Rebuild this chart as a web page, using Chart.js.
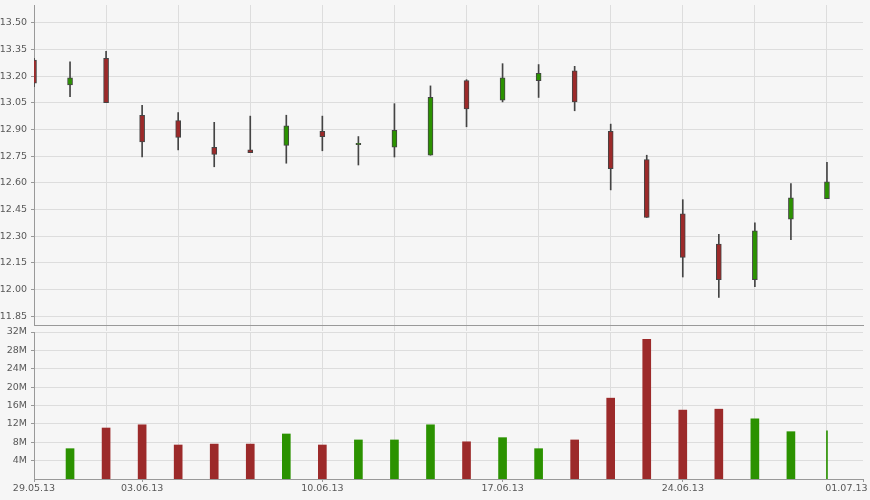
<!DOCTYPE html>
<html lang="en">
<head>
<meta charset="utf-8">
<script src="https://cdn.jsdelivr.net/npm/chart.js@4.4.0/dist/chart.umd.min.js"></script>
<style>
    body { margin: 0; background: #f6f6f6; width: 870px; height: 500px; overflow: hidden; position: relative; }
    #priceChart { position: absolute; left: 0; top: 0; }
    #volumeChart { position: absolute; left: 0; top: 325px; }
</style>
</head>
<body>
<canvas id="priceChart" width="870" height="331"></canvas>
<canvas id="volumeChart" width="870" height="175"></canvas>
<script>
// trading days (last one has no data, it only closes the axis)
const dates = ['29.05.13','30.05.13','31.05.13','03.06.13','04.06.13','05.06.13','06.06.13','07.06.13',
    '10.06.13','11.06.13','12.06.13','13.06.13','14.06.13','17.06.13','18.06.13','19.06.13','20.06.13','21.06.13',
    '24.06.13','25.06.13','26.06.13','27.06.13','28.06.13','01.07.13'];
const tickLabels = ['29.05.13','03.06.13','10.06.13','17.06.13','24.06.13','01.07.13'];

const open  = [13.29, 13.15, 13.30, 12.98, 12.95, 12.80, 12.785, 12.81, 12.89, 12.815, 12.80, 12.755,
    13.175, 13.065, 13.175, 13.23, 12.89, 12.73, 12.425, 12.255, 12.055, 12.395, 12.51, null];
const high  = [13.30, 13.28, 13.34, 13.035, 12.995, 12.94, 12.975, 12.98, 12.975, 12.86, 13.045, 13.145,
    13.18, 13.27, 13.265, 13.255, 12.93, 12.755, 12.505, 12.31, 12.375, 12.595, 12.715, null];
const low   = [13.14, 13.085, 13.05, 12.745, 12.785, 12.69, 12.77, 12.71, 12.78, 12.70, 12.745, 12.755,
    12.915, 13.055, 13.08, 13.005, 12.56, 12.405, 12.07, 11.955, 12.015, 12.28, 12.51, null];
const close = [13.16, 13.19, 13.05, 12.83, 12.855, 12.76, 12.77, 12.92, 12.86, 12.822, 12.895, 13.08,
    13.015, 13.19, 13.215, 13.055, 12.68, 12.405, 12.18, 12.055, 12.33, 12.515, 12.605, null];

// volume in millions
const volumeM = [null, 6.6, 11.1, 11.8, 7.4, 7.6, 7.6, 9.8, 7.4, 8.5, 8.5, 11.8,
    8.1, 9.0, 6.6, 8.5, 17.6, 30.4, 15.0, 15.2, 13.1, 10.3, 10.5, null];

const priceTicks = [11.85, 12.00, 12.15, 12.30, 12.45, 12.60, 12.75, 12.90, 13.05, 13.20, 13.35, 13.50];
const volumeTicks = [4, 8, 12, 16, 20, 24, 28, 32];

const upColor = '#2b9200';
const downColor = '#9c2a2a';
const edgeColor = '#444444';
const axisColor = '#999999';
const gridColor = '#dddddd';
const none = 'rgba(0,0,0,0)';

Chart.defaults.font.family = 'DejaVu Sans';
Chart.defaults.font.size = 9.5;
Chart.defaults.color = '#585858';

function candleColor(i) {
    return close[i] >= open[i] ? upColor : downColor;
}
// vertical grid every second day
function dayGrid(ctx) {
    const i = ctx.index;
    return (i > 0 && i % 2 === 0 && i < dates.length - 1) ? gridColor : none;
}
function yFit(s) { s.width = 34; s.paddingTop = 0; s.paddingBottom = 0; }

const priceChart = new Chart(document.getElementById('priceChart'), {
    type: 'bar',
    data: {
        labels: dates,
        datasets: [{
            // bodies
            data: open.map((o, i) => o == null ? null : [o, close[i]]),
            backgroundColor: ctx => candleColor(ctx.dataIndex),
            borderColor: edgeColor,
            borderWidth: 1,
            borderSkipped: false,
            barThickness: 5,
            grouped: false,
            order: 0
        }, {
            // wicks
            data: low.map((l, i) => l == null ? null : [l, high[i]]),
            backgroundColor: edgeColor,
            barThickness: 1,
            grouped: false,
            order: 1
        }]
    },
    options: {
        responsive: false,
        animation: false,
        layout: { padding: { top: 5, right: 7, left: 0, bottom: 0 } },
        plugins: { legend: { display: false }, tooltip: { enabled: false } },
        scales: {
            x: {
                offset: false,
                grid: { offset: false, color: dayGrid, tickColor: dayGrid, tickLength: 6 },
                border: { color: axisColor },
                ticks: { display: false, autoSkip: false },
                afterFit(s) { s.height = 6; s.paddingLeft = 0; s.paddingRight = 0; }
            },
            y: {
                min: 11.8,
                max: 13.6,
                grid: { color: gridColor, tickColor: axisColor, tickLength: 3 },
                border: { color: axisColor },
                ticks: { padding: 4, callback: v => v.toFixed(2) },
                afterBuildTicks(s) { s.ticks = priceTicks.map(v => ({ value: v })); },
                afterFit: yFit
            }
        }
    }
});

const volumeChart = new Chart(document.getElementById('volumeChart'), {
    type: 'bar',
    data: {
        labels: dates,
        datasets: [{
            data: volumeM.map((v, i) => i === dates.length - 2 ? null : v),
            backgroundColor: ctx => candleColor(ctx.dataIndex),
            barThickness: 8,
            grouped: false
        }, {
            // last session is drawn as a hairline
            data: volumeM.map((v, i) => i === dates.length - 2 ? v : null),
            backgroundColor: ctx => candleColor(ctx.dataIndex),
            barThickness: 1,
            grouped: false
        }]
    },
    options: {
        responsive: false,
        animation: false,
        layout: { padding: { top: 7, right: 7, left: 0, bottom: 0 } },
        plugins: { legend: { display: false }, tooltip: { enabled: false } },
        scales: {
            x: {
                offset: false,
                grid: {
                    offset: false,
                    color: dayGrid,
                    tickColor: ctx => tickLabels.includes(dates[ctx.index]) ? axisColor : none,
                    tickLength: 3
                },
                border: { color: axisColor },
                ticks: {
                    autoSkip: false,
                    maxRotation: 0,
                    minRotation: 0,
                    padding: 1,
                    callback(v, i) {
                        const d = dates[i];
                        if (!tickLabels.includes(d)) return '';
                        // last label sits against the right edge
                        return i === dates.length - 1 ? d + ' '.repeat(11) : d;
                    }
                },
                afterFit(s) { s.height = 21; s.paddingLeft = 0; s.paddingRight = 0; }
            },
            y: {
                min: 0,
                max: 32,
                grid: { color: gridColor, tickColor: axisColor, tickLength: 3 },
                border: { color: axisColor },
                ticks: { padding: 4, callback: v => v + 'M' },
                afterBuildTicks(s) { s.ticks = volumeTicks.map(v => ({ value: v })); },
                afterFit: yFit
            }
        }
    }
});
</script>
</body>
</html>
